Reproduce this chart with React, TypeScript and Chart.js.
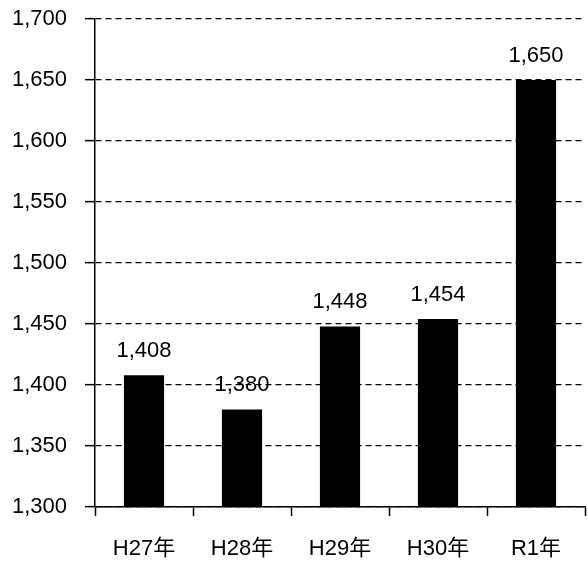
import React, { useEffect, useRef } from "react";
import { Chart, registerables } from "chart.js";

Chart.register(...registerables);

const categories = ["H27年", "H28年", "H29年", "H30年", "R1年"];
const values = [1408, 1380, 1448, 1454, 1650];
const yMin = 1300;
const yMax = 1700;
const yStep = 50;

const FONT = "'Liberation Sans', 'Noto Sans CJK JP', sans-serif";

const fmt = (v: number) => v.toLocaleString("en-US");

const valueLabels = {
  id: "valueLabels",
  afterDatasetsDraw(chart: any) {
    const ctx = chart.ctx;
    const meta = chart.getDatasetMeta(0);
    ctx.save();
    ctx.fillStyle = "#000";
    ctx.font = `22px ${FONT}`;
    ctx.textAlign = "center";
    ctx.textBaseline = "alphabetic";
    meta.data.forEach((bar: any, i: number) => {
      ctx.fillText(fmt(values[i]), bar.x, bar.y - 18);
    });
    ctx.restore();
  },
};

export default function App() {
  const ref = useRef<HTMLCanvasElement>(null);
  useEffect(() => {
    const chart = new Chart(ref.current!, {
      type: "bar",
      data: {
        labels: categories,
        datasets: [
          {
            data: values,
            backgroundColor: "#000",
            borderWidth: 0,
            barPercentage: 0.41,
            categoryPercentage: 1,
          },
        ],
      },
      options: {
        animation: false,
        responsive: true,
        maintainAspectRatio: false,
        layout: { padding: { top: 19, right: 3, left: 0, bottom: 0 } },
        plugins: { legend: { display: false }, tooltip: { enabled: false } },
        scales: {
          x: {
            grid: {
              display: true,
              drawOnChartArea: false,
              drawTicks: true,
              tickLength: 9,
              tickColor: "#000",
              tickWidth: 1.5,
              offset: true,
            },
            border: { display: true, color: "#000", width: 1.5 },
            ticks: {
              color: "#000",
              font: { size: 22, family: FONT },
              padding: 20,
              maxRotation: 0,
            },
            afterFit: (s: any) => {
              s.height = 56;
              s.paddingLeft = 0;
              s.paddingRight = 0;
            },
          },
          y: {
            min: yMin,
            max: yMax,
            grid: {
              color: "#000",
              lineWidth: 1.3,
              drawTicks: true,
              tickLength: 10,
              tickColor: "#000",
              tickWidth: 1.5,
            },
            border: { display: true, color: "#000", width: 1.5, dash: [6, 4] },
            ticks: {
              stepSize: yStep,
              color: "#000",
              font: { size: 22, family: FONT },
              padding: 18,
              callback: (v: any) => fmt(Number(v)),
            },
            afterFit: (s: any) => {
              s.width = 95;
              s.paddingTop = 0;
              s.paddingBottom = 0;
            },
          },
        },
      },
      plugins: [valueLabels],
    });
    return () => chart.destroy();
  }, []);
  return (
    <div style={{ position: "fixed", left: 0, top: 0, width: 588, height: 563, background: "#fff" }}>
      <canvas ref={ref} />
    </div>
  );
}
